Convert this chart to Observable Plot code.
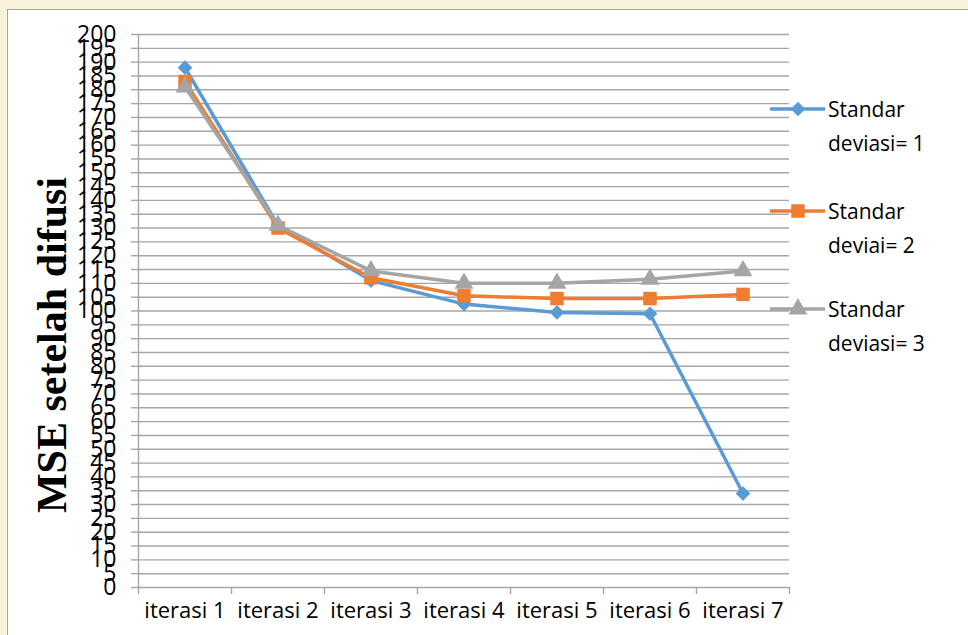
<!DOCTYPE html>
<html>
<head>
<meta charset="utf-8">
<script src="https://cdn.jsdelivr.net/npm/d3@7"></script>
<script src="https://cdn.jsdelivr.net/npm/@observablehq/plot@0.6"></script>
<style>
  html, body { margin: 0; padding: 0; background: #f7f3d9; }
  #wrap { position: relative; width: 968px; height: 635px; overflow: hidden; background: #f7f3d9; }
  #box { position: absolute; left: 7px; top: 9px; width: 970px; height: 640px; background: #fff;
         border-left: 1.5px solid #a6a6a6; border-top: 1.5px solid #a6a6a6; }
  #chart { position: absolute; left: 8px; top: 10px; }
  #ytitle { position: absolute; left: 52px; top: 345px; transform: translate(-50%, -50%) rotate(-90deg);
            font-family: "Liberation Serif", serif; font-weight: bold; font-size: 42px; white-space: nowrap; color: #000; }
  .leg { position: absolute; font-family: "Open Sans", sans-serif; font-size: 21px; color: #000; line-height: 34px; }
  .legsym { position: absolute; }
</style>
</head>
<body>
<div id="wrap">
  <div id="box"></div>
  <div id="chart"></div>
  <div id="ytitle">MSE setelah difusi</div>
</div>
<script>
const categories = ["iterasi 1", "iterasi 2", "iterasi 3", "iterasi 4", "iterasi 5", "iterasi 6", "iterasi 7"];
const sd1 = [188, 131, 111, 102.5, 99.5, 99, 34];
const sd2 = [183, 130, 112, 105.5, 104.5, 104.5, 106];
const sd3 = [181, 131, 114.5, 110, 110, 111.5, 114.5];
const seriesNames = [["Standar", "deviasi= 1"], ["Standar", "deviai= 2"], ["Standar", "deviasi= 3"]];
const yTicks = d3.range(0, 201, 5);

const colors = ["#5b9bd5", "#ed7d31", "#a5a5a5"];
const symbols = ["diamond2", "square", "triangle"];
const radii = [6.6, 7.6, 7.0];
const d3symbols = [d3.symbolDiamond2, d3.symbolSquare, d3.symbolTriangle];
const allValues = [sd1, sd2, sd3];

const seriesMarks = allValues.flatMap((vals, s) => {
  const rows = vals.map((v, i) => ({idx: i, value: v}));
  return [
    Plot.line(rows, {x: d => d.idx + 0.5, y: "value", stroke: colors[s], strokeWidth: 3.5}),
    Plot.dot(rows, {x: d => d.idx + 0.5, y: "value", fill: colors[s], symbol: symbols[s], r: radii[s], stroke: "none"})
  ];
});

const chart = Plot.plot({
  width: 960,
  height: 625,
  marginLeft: 130,
  marginTop: 24,
  marginRight: 179,
  marginBottom: 48,
  style: {background: "transparent", fontFamily: "Open Sans", overflow: "visible"},
  x: {domain: [0, categories.length], axis: null},
  y: {domain: [0, 200], axis: null},
  marks: [
    Plot.ruleY(yTicks, {stroke: "#a6a6a6", strokeWidth: 1.4}),
    Plot.axisY({ticks: yTicks, tickSize: 7, stroke: "#a6a6a6", strokeWidth: 1.4, text: null, strokeOpacity: 1, label: null}),
    Plot.axisY({ticks: yTicks, tickSize: 0, tickPadding: 22, fontSize: 23, fill: "#000", tickFormat: d => String(d), label: null}),
    Plot.ruleX([0], {stroke: "#a6a6a6", strokeWidth: 1.4}),
    Plot.axisX({ticks: d3.range(0, categories.length + 1), tickSize: 7, stroke: "#a6a6a6", strokeWidth: 1.4, strokeOpacity: 1, text: null, label: null}),
    Plot.axisX({ticks: d3.range(categories.length).map(i => i + 0.5), tickSize: 0, tickPadding: 15, fontSize: 22, fill: "#000",
                tickFormat: v => categories[Math.floor(v)], label: null}),
    ...seriesMarks
  ]
});
document.getElementById("chart").appendChild(chart);

// Legend
const wrap = document.getElementById("wrap");
const legY = [109, 211, 309];
seriesNames.forEach((lines, s) => {
  const svg = d3.create("svg").attr("width", 60).attr("height", 24).attr("class", "legsym")
    .style("left", "768px").style("top", (legY[s] - 12) + "px");
  svg.append("line").attr("x1", 2).attr("x2", 57).attr("y1", 12).attr("y2", 12)
    .attr("stroke", colors[s]).attr("stroke-width", 3.5);
  svg.append("path").attr("d", d3.symbol(d3symbols[s], radii[s] * radii[s] * Math.PI)())
    .attr("transform", "translate(30,12)").attr("fill", colors[s]);
  wrap.appendChild(svg.node());
  const div = document.createElement("div");
  div.className = "leg";
  div.style.left = "828px";
  div.style.top = (legY[s] - 17) + "px";
  div.innerHTML = lines.join("<br>");
  wrap.appendChild(div);
});
</script>
</body>
</html>
